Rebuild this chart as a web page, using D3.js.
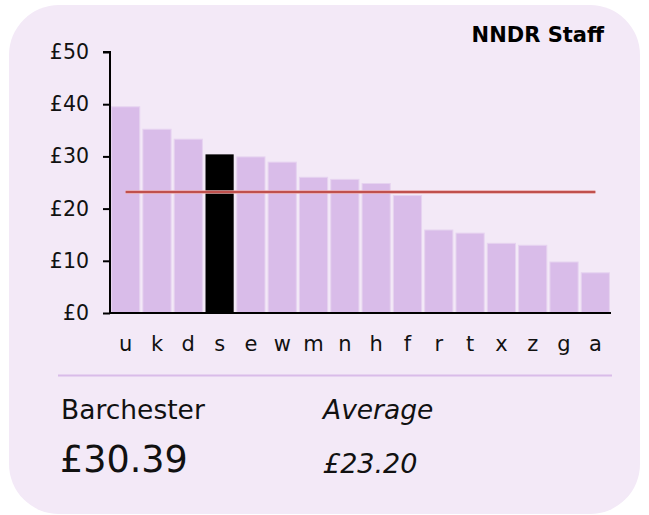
<!DOCTYPE html>
<html lang="en">
<head>
<meta charset="UTF-8">
<title>NNDR Staff</title>
<style>
  body { margin: 0; background: #fff; font-family: 'DejaVu Sans', sans-serif; }
  svg { display: block; }
</style>
</head>
<body>
<svg id="chart" width="649" height="515"></svg>
<script src="https://d3js.org/d3.v7.min.js"></script>
<script>
// data
const categories = ["u", "k", "d", "s", "e", "w", "m", "n", "h", "f", "r", "t", "x", "z", "g", "a"];
const values = [39.5, 35.2, 33.3, 30.39, 29.9, 28.9, 26.0, 25.6, 24.8, 22.5, 15.9, 15.3, 13.35, 12.97, 9.77, 7.7];
const highlight = "s";
const average = 23.20;
const yTicks = [0, 10, 20, 30, 40, 50];
const title = "NNDR Staff";
const areaName = "Barchester";

const svg = d3.select("#chart");

// card background
svg.append("rect")
    .attr("x", 9).attr("y", 5)
    .attr("width", 631).attr("height", 509)
    .attr("rx", 50).attr("ry", 50)
    .attr("fill", "#f3e9f7");

const x = d3.scaleBand().domain(categories).range([110, 611]).paddingInner(0.1).paddingOuter(0.05);
const y = d3.scaleLinear().domain([0, 50]).range([313, 52]);

// bars
svg.append("g").selectAll("rect")
    .data(categories)
    .join("rect")
    .attr("x", d => x(d))
    .attr("y", (d, i) => y(values[i]))
    .attr("width", x.bandwidth())
    .attr("height", (d, i) => y(0) - y(values[i]))
    .attr("fill", d => d === highlight ? "#000" : "#d9bce9")
    .attr("stroke", d => d === highlight ? "none" : "#e6d3f0")
    .attr("stroke-width", 1);

// average line, first band centre to last band centre
const x1 = x(categories[0]) + x.bandwidth() / 2;
const x2 = x(categories[categories.length - 1]) + x.bandwidth() / 2;
svg.append("line")
    .attr("x1", x1).attr("x2", x2)
    .attr("y1", y(average)).attr("y2", y(average))
    .attr("stroke", "#e8a9a8").attr("stroke-width", 3.5);
svg.append("line")
    .attr("x1", x1).attr("x2", x2)
    .attr("y1", y(average)).attr("y2", y(average))
    .attr("stroke", "#c0504d").attr("stroke-width", 2);

// y axis
const yAxis = svg.append("g")
    .attr("transform", "translate(110,0)")
    .call(d3.axisLeft(y).tickValues(yTicks).tickFormat(d => "£" + d).tickSize(7).tickPadding(14));
yAxis.select(".domain").attr("stroke", "#000").attr("stroke-width", 2).attr("d", "M-7,52H0V313");
yAxis.selectAll(".tick line").attr("stroke", "#000").attr("stroke-width", 2);
yAxis.selectAll("text").attr("font-size", 20.5).attr("font-family", "'DejaVu Sans', sans-serif").attr("fill", "#111");

// x axis
const xAxis = svg.append("g")
    .attr("transform", "translate(0,313)")
    .call(d3.axisBottom(x).tickSize(0).tickPadding(23));
xAxis.select(".domain").attr("stroke", "#000").attr("stroke-width", 2).attr("d", "M110,0H611");
xAxis.selectAll("text").attr("font-size", 21).attr("font-family", "'DejaVu Sans', sans-serif").attr("fill", "#111");

// title
svg.append("text")
    .attr("x", 604).attr("y", 42)
    .attr("text-anchor", "end")
    .attr("font-size", 21).attr("font-weight", "bold")
    .attr("fill", "#000")
    .text(title);

// separator
svg.append("line")
    .attr("x1", 58).attr("x2", 612)
    .attr("y1", 375.5).attr("y2", 375.5)
    .attr("stroke", "#d9bce9").attr("stroke-width", 2);

// summary
svg.append("text")
    .attr("x", 61).attr("y", 419)
    .attr("font-size", 26.5).attr("fill", "#111")
    .text(areaName);
svg.append("text")
    .attr("x", 60).attr("y", 472)
    .attr("font-size", 36.5).attr("fill", "#111")
    .text("£" + values[categories.indexOf(highlight)].toFixed(2));
svg.append("text")
    .attr("x", 323).attr("y", 419)
    .attr("font-size", 26.5).attr("font-style", "italic").attr("fill", "#111")
    .text("Average");
svg.append("text")
    .attr("x", 323).attr("y", 473)
    .attr("font-size", 27).attr("font-style", "italic").attr("fill", "#111")
    .text("£" + average.toFixed(2));
</script>
</body>
</html>
